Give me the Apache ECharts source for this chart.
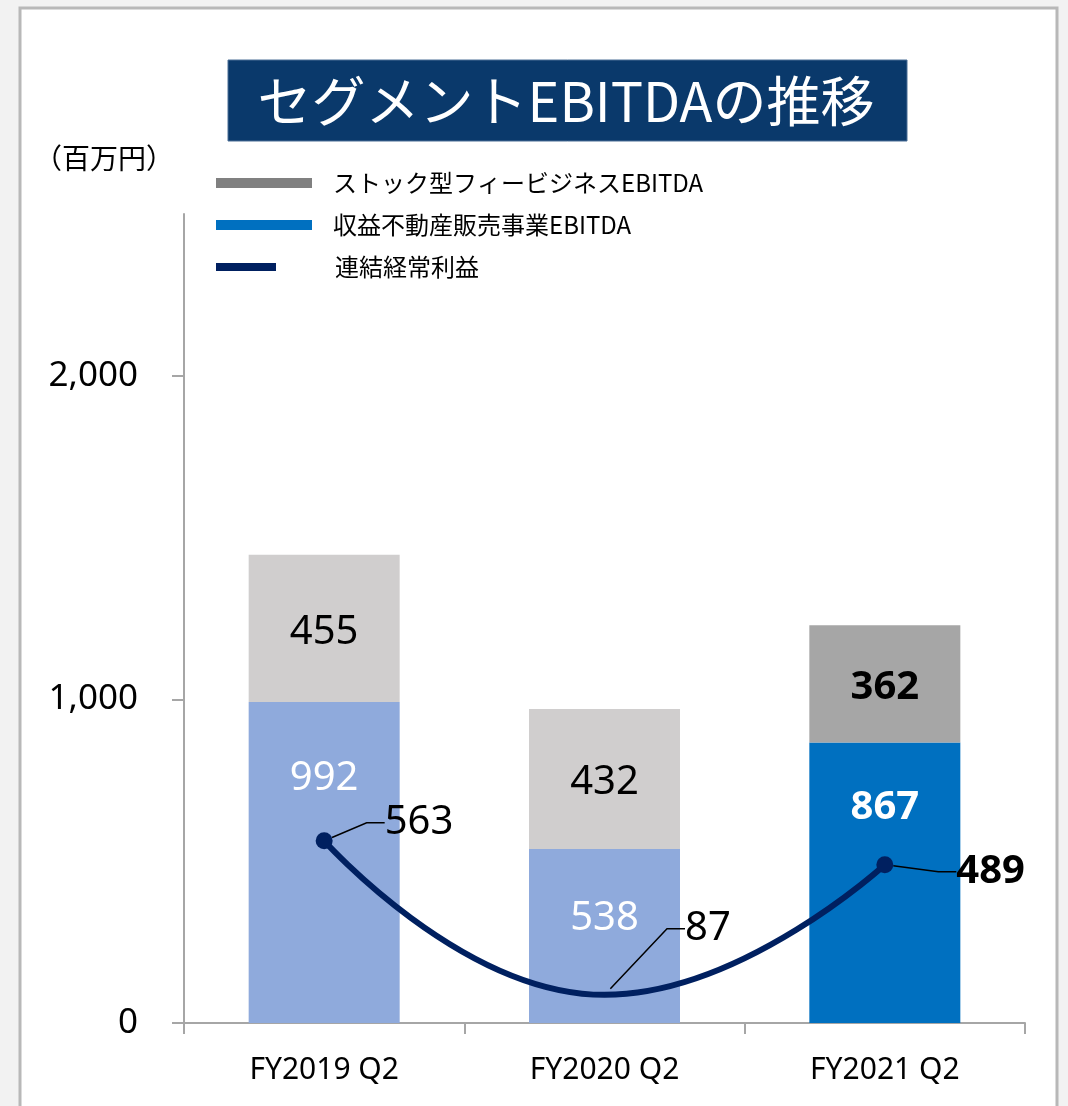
<!DOCTYPE html>
<html>
<head>
<meta charset="utf-8">
<script src="https://cdn.jsdelivr.net/npm/echarts@6/dist/echarts.min.js"></script>
<style>
html,body{margin:0;padding:0;background:#f2f2f2;}
#chart{width:1068px;height:1106px;}
</style>
</head>
<body>
<div id="chart"></div>
<script>
// ---- data ----
const categories = ['FY2019 Q2', 'FY2020 Q2', 'FY2021 Q2'];
const stockEbitda = [455, 432, 362];          // ストック型フィービジネスEBITDA
const realEstateEbitda = [992, 538, 867];     // 収益不動産販売事業EBITDA
const ordinaryProfit = [563, 87, 489];        // 連結経常利益
const yTickValues = [0, 1000, 2000];
const seriesNames = ['ストック型フィービジネスEBITDA', '収益不動産販売事業EBITDA', '連結経常利益'];
const titleText = 'セグメントEBITDAの推移';
const unitText = '（百万円）';

// ---- styling ----
const FONT = '"Noto Sans", "Noto Sans CJK JP", sans-serif';
const JP = '"Noto Sans CJK JP", "Noto Sans", sans-serif';
const lightBlue = '#8faadc', lightGray = '#d0cece';
const blue = '#0070c0', gray = '#a6a6a6';
const navy = '#002060';
const lastIdx = categories.length - 1;
const lineLabelShift = [[52, -18], [72, -66], [63, 7]];
const lowerLabelInset = [57, 50, 45];

const chart = echarts.init(document.getElementById('chart'), null, {renderer: 'canvas'});

const legendText = pad => ({fontSize: 24, fontFamily: JP, color: '#000', padding: [0, 0, 0, pad]});

const option = {
  animation: false,
  backgroundColor: '#f2f2f2',
  textStyle: {fontFamily: FONT},
  graphic: [
    {type: 'rect', z: -10, shape: {x: 20, y: 8, width: 1037, height: 1120},
     style: {fill: '#ffffff', stroke: '#b8b8b8', lineWidth: 3}},
    {type: 'rect', z: 10, shape: {x: 228, y: 60, width: 679, height: 81},
     style: {fill: '#0a396b', stroke: '#4a6f96', lineWidth: 1}},
    {type: 'text', z: 11, x: 566, y: 101,
     style: {text: titleText, fill: '#ffffff', font: '54px ' + JP, align: 'center', verticalAlign: 'middle'}},
    {type: 'text', z: 11, x: 104, y: 158,
     style: {text: unitText, fill: '#000000', font: '28px ' + JP, align: 'center', verticalAlign: 'middle'}}
  ],
  legend: [
    {data: [seriesNames[0]], left: 216, top: 171, padding: 0, itemWidth: 96, itemHeight: 10, icon: 'rect',
     textStyle: legendText(16)},
    {data: [seriesNames[1]], left: 216, top: 213, padding: 0, itemWidth: 96, itemHeight: 10, icon: 'rect',
     textStyle: legendText(16)},
    {data: [{name: seriesNames[2], icon: 'rect', itemStyle: {color: navy}}], left: 216, top: 255, padding: 0,
     itemWidth: 60, itemHeight: 8, textStyle: legendText(54)}
  ],
  grid: {left: 184, right: 43, top: 214, bottom: 83, containLabel: false},
  xAxis: {
    type: 'category',
    data: categories,
    axisLine: {lineStyle: {color: '#a6a6a6', width: 2}},
    axisTick: {show: true, length: 11, lineStyle: {color: '#a6a6a6', width: 2}},
    axisLabel: {margin: 32, fontSize: 30, color: '#000', fontFamily: FONT}
  },
  yAxis: {
    type: 'value',
    min: 0, max: 2500, interval: 500,
    splitLine: {show: false},
    axisLine: {show: true, lineStyle: {color: '#a6a6a6', width: 2}},
    axisTick: {show: true, length: 12, customValues: yTickValues, lineStyle: {color: '#a6a6a6', width: 2}},
    axisLabel: {
      customValues: yTickValues,
      margin: 46, fontSize: 35, color: '#000', fontFamily: FONT,
      formatter: v => v.toLocaleString('en-US')
    }
  },
  series: [
    {
      name: seriesNames[1], type: 'bar', stack: 'ebitda', barWidth: 151,
      itemStyle: {color: blue},
      label: {show: true, position: 'insideTop', fontSize: 40, color: '#fff', fontFamily: FONT},
      data: realEstateEbitda.map((v, i) => ({
        value: v,
        itemStyle: {color: i === lastIdx ? blue : lightBlue},
        label: {distance: lowerLabelInset[i], fontWeight: i === lastIdx ? 'bold' : 'normal'}
      }))
    },
    {
      name: seriesNames[0], type: 'bar', stack: 'ebitda', barWidth: 151,
      itemStyle: {color: '#808080'},
      label: {show: true, position: 'inside', offset: [0, 4], fontSize: 40, color: '#000', fontFamily: FONT},
      data: stockEbitda.map((v, i) => ({
        value: v,
        itemStyle: {color: i === lastIdx ? gray : lightGray},
        label: {fontWeight: i === lastIdx ? 'bold' : 'normal'}
      }))
    },
    {
      name: seriesNames[2], type: 'line', smooth: 0.5, z: 5,
      lineStyle: {color: navy, width: 6},
      itemStyle: {color: navy},
      symbol: 'circle', symbolSize: 17,
      label: {show: true, position: 'right', distance: 0, fontSize: 40, color: '#000', fontFamily: FONT},
      labelLine: {show: true, length2: 18, lineStyle: {color: '#000', width: 1.5}},
      labelLayout: p => ({dx: lineLabelShift[p.dataIndex][0], dy: lineLabelShift[p.dataIndex][1]}),
      data: ordinaryProfit.map((v, i) => ({
        value: v,
        itemStyle: i === 1 ? {color: 'rgba(0,0,0,0)'} : undefined,
        label: {fontWeight: i === lastIdx ? 'bold' : 'normal'}
      }))
    }
  ]
};
chart.setOption(option);
</script>
</body>
</html>
